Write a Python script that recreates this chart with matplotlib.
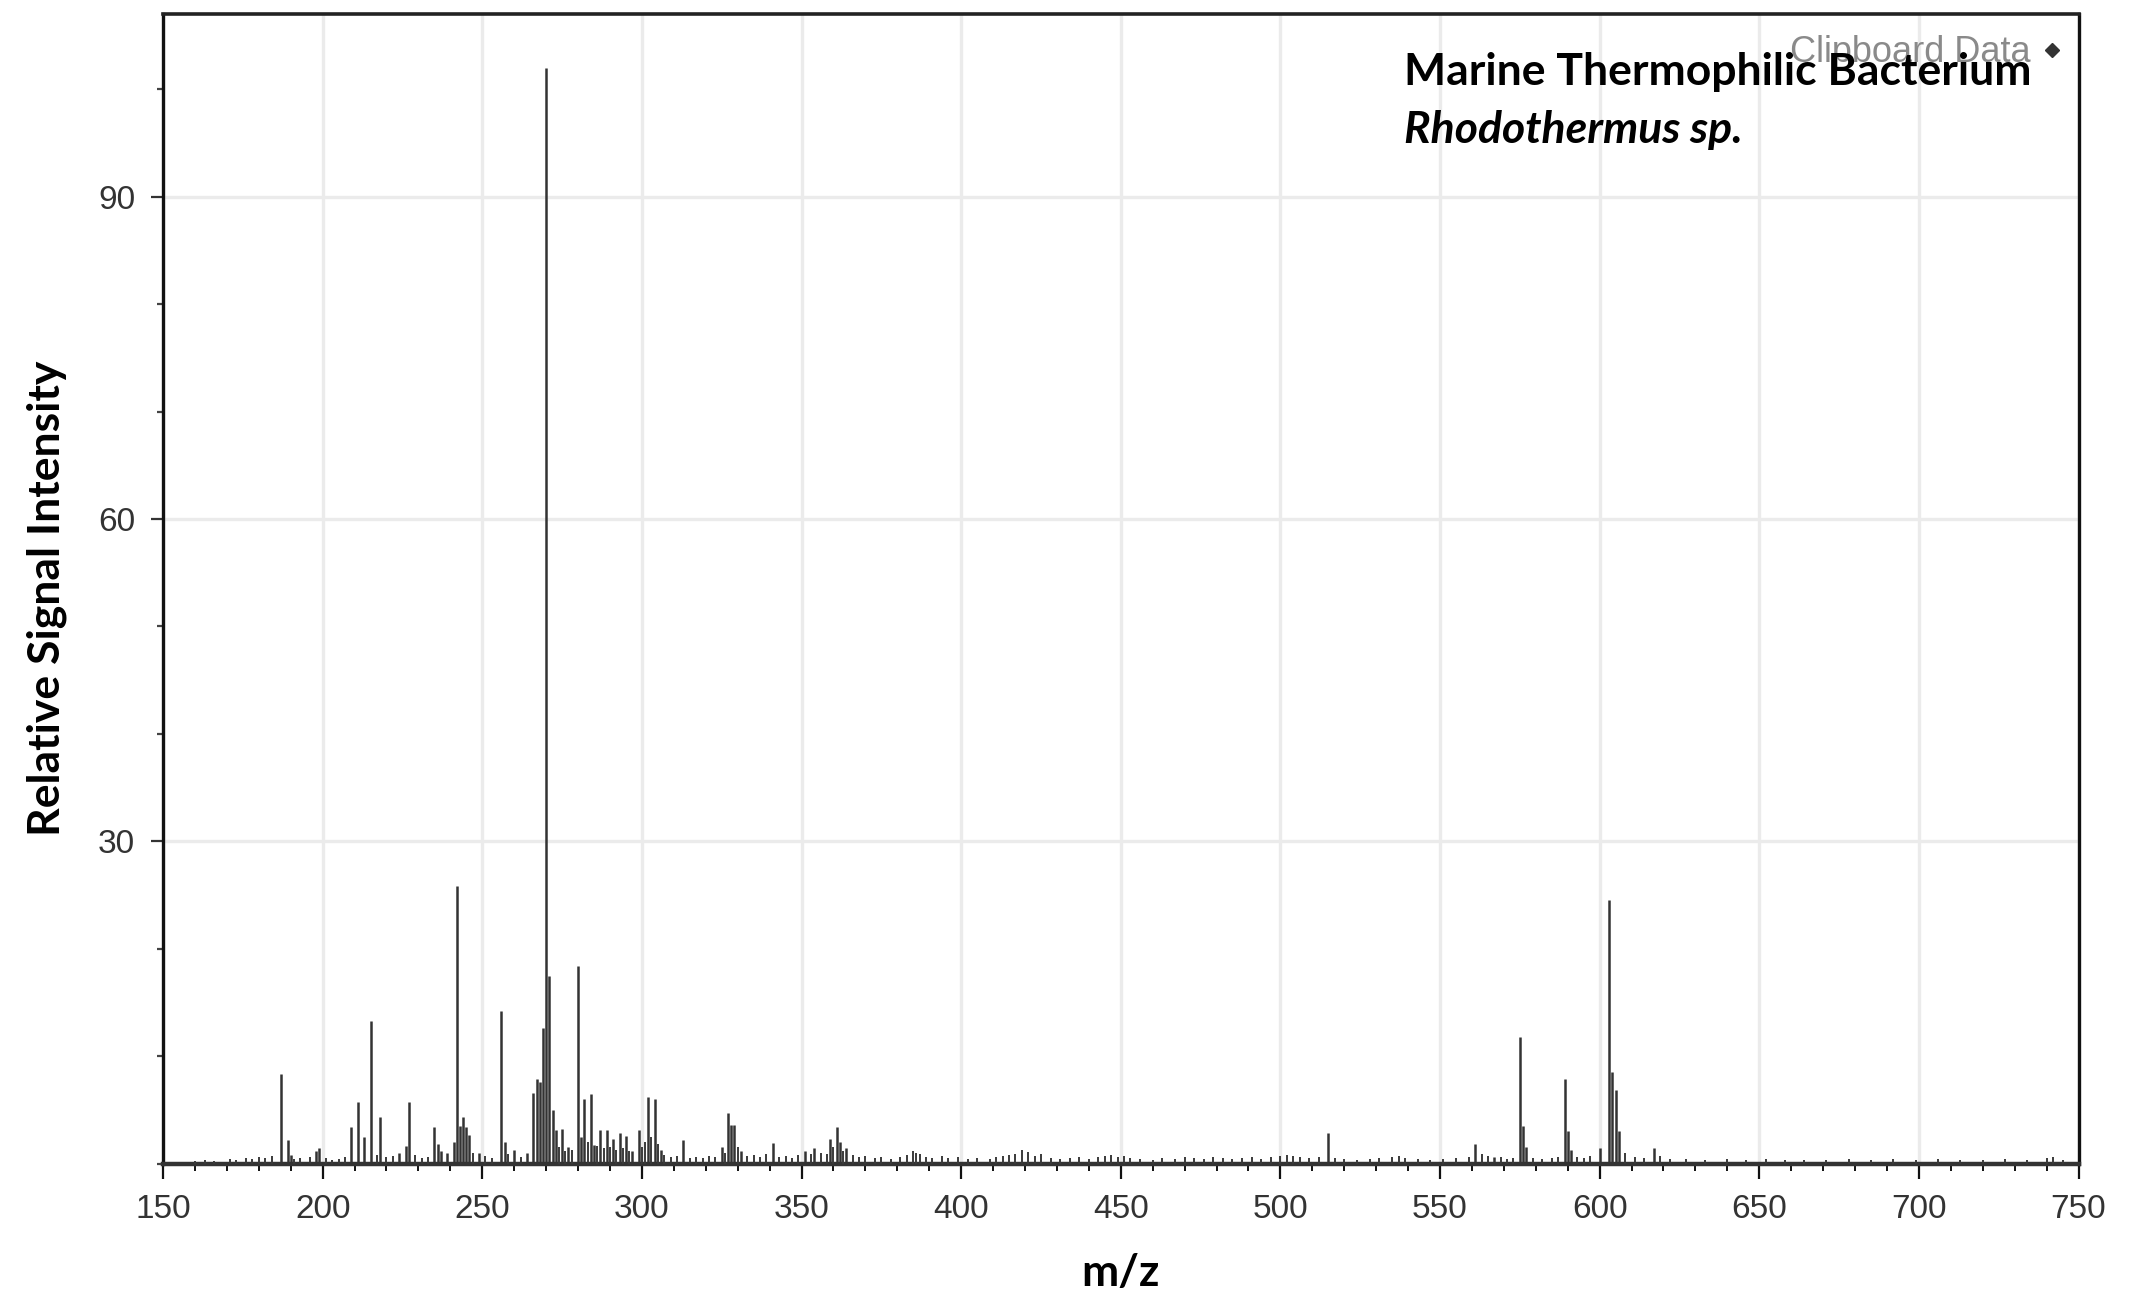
import matplotlib
matplotlib.use("Agg")
import matplotlib.pyplot as plt
from matplotlib.ticker import MultipleLocator

# main peaks (m/z, relative intensity)
peak_mz = [187, 189, 190, 198, 199, 209, 211, 213, 215, 218, 224, 226, 227,
           235, 236, 237, 239, 241, 242, 243, 244, 245, 246, 249, 256, 257,
           260, 264, 266, 267, 268, 269, 270, 271, 272, 273, 275, 277, 280,
           281, 282, 284, 285, 287, 289, 291, 293, 295, 297, 299, 302, 304,
           306, 313, 325, 327, 328, 329, 331, 341, 351, 354, 359, 361, 362,
           364, 515, 561, 567, 575, 576, 577, 589, 590, 591, 600, 603, 604,
           605, 606, 617]
peak_int = [8.3, 2.2, 0.8, 1.2, 1.4, 3.4, 5.7, 2.5, 13.3, 4.3, 1.0, 1.6, 5.7,
            3.4, 1.8, 1.2, 1.0, 2.0, 25.8, 3.5, 4.3, 3.4, 2.7, 1.0, 14.2, 2.0,
            1.3, 1.0, 6.6, 7.9, 7.6, 12.6, 102.0, 17.5, 5.0, 3.1, 3.2, 1.5, 18.4,
            2.5, 6.0, 6.5, 1.7, 3.1, 3.1, 2.3, 2.8, 2.6, 1.2, 3.1, 6.2, 6.0,
            1.3, 2.2, 1.5, 4.7, 3.6, 3.6, 1.2, 1.9, 1.2, 1.4, 2.3, 3.4, 2.0,
            1.4, 2.8, 1.8, 0.6, 11.8, 3.5, 1.5, 7.9, 3.0, 1.3, 1.4, 24.5, 8.5,
            6.8, 3.0, 1.4]

# low-level background peaks
noise_mz = [160, 163, 166, 171, 173, 176, 178, 180, 182, 184, 191, 193, 196,
            201, 203, 205, 207, 217, 220, 222, 229, 231, 233, 247, 251, 253,
            258, 262, 274, 276, 278, 283, 286, 288, 290, 292, 294, 296, 300,
            301, 303, 305, 307, 309, 311, 315, 317, 319, 321, 323, 326, 330,
            333, 335, 337, 339, 343, 345, 347, 349, 353, 356, 358, 360, 363,
            366, 368, 370, 373, 375, 378, 381, 383, 385, 386, 387, 389, 391,
            394, 396, 399, 402, 405, 409, 411, 413, 415, 417, 419, 421, 423,
            425, 428, 431, 434, 437, 440, 443, 445, 447, 449, 451, 453, 456,
            460, 463, 467, 470, 473, 476, 479, 482, 485, 488, 491, 494, 497,
            500, 502, 504, 506, 509, 512, 517, 520, 524, 528, 531, 535, 537,
            539, 543, 547, 551, 555, 559, 563, 565, 569, 571, 573, 579, 582,
            585, 587, 593, 595, 597, 608, 611, 614, 619, 622, 627, 633, 640,
            646, 652, 658, 664, 671, 678, 685, 692, 699, 706, 713, 720, 727,
            734, 740, 742, 745]
noise_int = [0.2, 0.3, 0.2, 0.4, 0.3, 0.5, 0.4, 0.6, 0.5, 0.7, 0.4, 0.5, 0.6,
             0.5, 0.3, 0.4, 0.6, 0.8, 0.6, 0.7, 0.8, 0.5, 0.6, 1.0, 0.7, 0.5,
             0.9, 0.6, 1.5, 1.2, 1.3, 2.0, 1.6, 1.4, 1.5, 1.3, 1.4, 1.2, 1.5,
             2.0, 2.5, 1.8, 0.8, 0.6, 0.7, 0.5, 0.6, 0.5, 0.7, 0.6, 1.0, 1.5,
             0.7, 0.8, 0.6, 0.9, 0.6, 0.7, 0.5, 0.8, 0.9, 1.0, 0.9, 1.5, 1.2,
             0.8, 0.6, 0.7, 0.5, 0.6, 0.4, 0.6, 0.8, 1.2, 1.0, 0.9, 0.6, 0.5,
             0.7, 0.5, 0.6, 0.4, 0.5, 0.4, 0.6, 0.7, 0.8, 0.9, 1.3, 1.1, 0.7,
             0.9, 0.5, 0.4, 0.5, 0.6, 0.4, 0.6, 0.7, 0.8, 0.6, 0.7, 0.5, 0.4,
             0.3, 0.5, 0.4, 0.6, 0.5, 0.4, 0.6, 0.5, 0.4, 0.5, 0.6, 0.4, 0.6,
             0.7, 0.8, 0.7, 0.6, 0.5, 0.6, 0.5, 0.4, 0.3, 0.4, 0.5, 0.6, 0.7,
             0.5, 0.4, 0.3, 0.4, 0.5, 0.6, 0.9, 0.7, 0.6, 0.4, 0.5, 0.5, 0.4,
             0.5, 0.6, 0.6, 0.5, 0.7, 1.0, 0.6, 0.5, 0.7, 0.4, 0.4, 0.3, 0.4,
             0.3, 0.4, 0.3, 0.3, 0.3, 0.4, 0.3, 0.4, 0.3, 0.4, 0.3, 0.3, 0.4,
             0.3, 0.5, 0.6, 0.3]

x_ticks = [150, 200, 250, 300, 350, 400, 450, 500, 550, 600, 650, 700, 750]
y_ticks = [30, 60, 90]

fig = plt.figure(figsize=(21.45, 13), dpi=100)
ax = fig.add_axes([0.076, 0.105, 0.893, 0.884])

ax.vlines(noise_mz, 0, noise_int, color="#3a3a3a", linewidth=1.4, zorder=3)
ax.vlines(peak_mz, 0, peak_int, color="#333333", linewidth=1.8, zorder=3)

ax.set_xlim(150, 750)
ax.set_ylim(0, 107)
ax.set_xticks(x_ticks)
ax.set_yticks(y_ticks)
ax.xaxis.set_minor_locator(MultipleLocator(10))
ax.yaxis.set_minor_locator(MultipleLocator(10))

ax.grid(True, which="major", color="#ebebeb", linewidth=2.4, zorder=0)
ax.set_axisbelow(True)

ax.tick_params(axis="x", which="major", direction="out", length=11, width=1.6,
               color="#111111", labelsize=24, labelcolor="#333333", pad=11)
ax.tick_params(axis="x", which="minor", direction="out", length=5, width=1.4,
               color="#111111")
ax.tick_params(axis="y", which="major", direction="out", length=9, width=1.6,
               color="#333333", labelsize=24, labelcolor="#333333", pad=11)
ax.tick_params(axis="y", which="minor", direction="out", length=4, width=1.6,
               color="#444444")
for lab in ax.get_xticklabels() + ax.get_yticklabels():
    lab.set_family("Liberation Sans")

ax.spines["left"].set_linewidth(2.4)
ax.spines["left"].set_color("#111111")
ax.spines["right"].set_linewidth(2.4)
ax.spines["right"].set_color("#111111")
ax.spines["top"].set_linewidth(2.6)
ax.spines["top"].set_color("#222222")
ax.spines["bottom"].set_linewidth(3.2)
ax.spines["bottom"].set_color("#333333")

ax.set_ylabel("Relative Signal Intensity", fontsize=32, fontweight="bold",
              family="Lato")
ax.yaxis.set_label_coords(-0.050, 0.492)
ax.set_xlabel("m/z", fontsize=32, fontweight="bold", family="Lato")
ax.xaxis.set_label_coords(0.5, -0.078)

# leftover legend entry of the original software
ax.text(0.975, 0.967, "Clipboard Data", transform=ax.transAxes, ha="right",
        va="center", fontsize=26, color="#8a8a8a", family="Liberation Sans",
        zorder=4)
ax.plot([0.986], [0.969], transform=ax.transAxes, marker="D", markersize=7,
        color="#333333", clip_on=False, zorder=5)

ax.text(0.648, 0.950, "Marine Thermophilic Bacterium", transform=ax.transAxes,
        ha="left", va="center", fontsize=32, fontweight="bold", family="Lato",
        color="black", zorder=6)
ax.text(0.648, 0.899, "Rhodothermus sp.", transform=ax.transAxes,
        ha="left", va="center", fontsize=32, fontweight="bold", style="italic",
        family="Lato", color="black", zorder=6)

fig.savefig("out.png", dpi=100)
